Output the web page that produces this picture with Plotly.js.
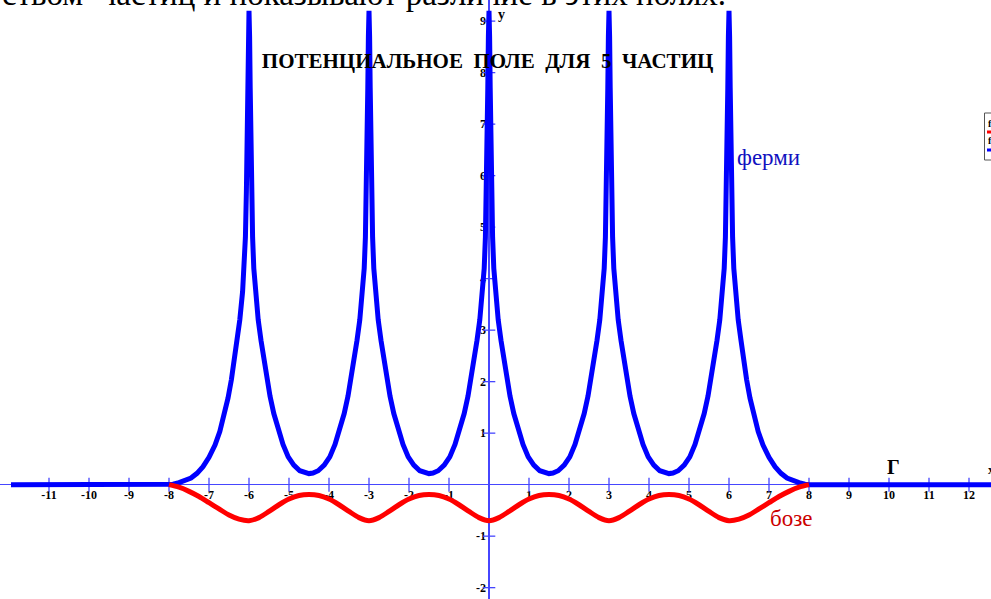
<!DOCTYPE html>
<html><head><meta charset="utf-8">
<script src="https://cdn.plot.ly/plotly-3.0.1.min.js"></script>
<style>html,body{margin:0;padding:0;background:#fff;overflow:hidden}#chart{width:991px;height:599px}</style>
</head><body><div id="chart"></div>
<script>
// Fermi curve (blue)
const fermiX = [-11.95,
 -8.0,-7.9,-7.75,-7.6,-7.45,-7.3,-7.15,-7.0,-6.85,-6.73,-6.62,-6.525,-6.44,-6.36,-6.3,-6.23,-6.16,-6.12,-6.09,-6.065,-6.045,-6.03,-6.015,-6.0,
 -5.985,-5.97,-5.955,-5.935,-5.91,-5.88,-5.84,-5.77,-5.7,-5.64,-5.56,-5.475,-5.38,-5.27,-5.15,-5.02,-4.88,-4.73,-4.6,-4.5,
 -4.4,-4.27,-4.12,-3.98,-3.85,-3.73,-3.62,-3.525,-3.44,-3.36,-3.3,-3.23,-3.16,-3.12,-3.09,-3.065,-3.045,-3.03,-3.015,-3.0,
 -2.985,-2.97,-2.955,-2.935,-2.91,-2.88,-2.84,-2.77,-2.7,-2.64,-2.56,-2.475,-2.38,-2.27,-2.15,-2.02,-1.88,-1.73,-1.6,-1.5,
 -1.4,-1.27,-1.12,-0.98,-0.85,-0.73,-0.62,-0.525,-0.44,-0.36,-0.3,-0.23,-0.16,-0.12,-0.09,-0.065,-0.045,-0.03,-0.015,0,
 0.015,0.03,0.045,0.065,0.09,0.12,0.16,0.23,0.3,0.36,0.44,0.525,0.62,0.73,0.85,0.98,1.12,1.27,1.4,1.5,
 1.6,1.73,1.88,2.02,2.15,2.27,2.38,2.475,2.56,2.64,2.7,2.77,2.84,2.88,2.91,2.935,2.955,2.97,2.985,3.0,
 3.015,3.03,3.045,3.065,3.09,3.12,3.16,3.23,3.3,3.36,3.44,3.525,3.62,3.73,3.85,3.98,4.12,4.27,4.4,4.5,
 4.6,4.73,4.88,5.02,5.15,5.27,5.38,5.475,5.56,5.64,5.7,5.77,5.84,5.88,5.91,5.935,5.955,5.97,5.985,6.0,
 6.015,6.03,6.045,6.065,6.09,6.12,6.16,6.23,6.3,6.36,6.44,6.525,6.62,6.73,6.85,7.0,7.15,7.3,7.45,7.6,7.75,7.9,8.0,
 12.6];
const fermiY = [0,
 0,0.01,0.04,0.08,0.13,0.22,0.35,0.53,0.77,1.03,1.34,1.68,2.04,2.45,2.8,3.2,3.75,4.2,4.8,5.7,6.8,7.7,8.7,9.2,
 8.7,7.7,6.8,5.7,4.8,4.2,3.75,3.2,2.8,2.48,2.08,1.72,1.38,1.06,0.78,0.54,0.38,0.27,0.225,0.215,
 0.225,0.27,0.38,0.54,0.78,1.06,1.38,1.72,2.08,2.48,2.8,3.2,3.75,4.2,4.8,5.7,6.8,7.7,8.7,9.2,
 8.7,7.7,6.8,5.7,4.8,4.2,3.75,3.2,2.8,2.48,2.08,1.72,1.38,1.06,0.78,0.54,0.38,0.27,0.225,0.215,
 0.225,0.27,0.38,0.54,0.78,1.06,1.38,1.72,2.08,2.48,2.8,3.2,3.75,4.2,4.8,5.7,6.8,7.7,8.7,9.2,
 8.7,7.7,6.8,5.7,4.8,4.2,3.75,3.2,2.8,2.48,2.08,1.72,1.38,1.06,0.78,0.54,0.38,0.27,0.225,0.215,
 0.225,0.27,0.38,0.54,0.78,1.06,1.38,1.72,2.08,2.48,2.8,3.2,3.75,4.2,4.8,5.7,6.8,7.7,8.7,9.2,
 8.7,7.7,6.8,5.7,4.8,4.2,3.75,3.2,2.8,2.48,2.08,1.72,1.38,1.06,0.78,0.54,0.38,0.27,0.225,0.215,
 0.225,0.27,0.38,0.54,0.78,1.06,1.38,1.72,2.08,2.48,2.8,3.2,3.75,4.2,4.8,5.7,6.8,7.7,8.7,9.2,
 8.7,7.7,6.8,5.7,4.8,4.2,3.75,3.2,2.8,2.45,2.04,1.68,1.34,1.03,0.77,0.53,0.35,0.22,0.13,0.08,0.04,0.01,0,
 0];

// Bose curve (red)
const boseX = [-8,-7.75,-7.5,-7.25,-7,-6.75,-6.5,-6.25,-6,-5.75,-5.5,-5.25,-5,-4.75,-4.5,-4.25,-4,-3.75,-3.5,-3.25,-3,
 -2.75,-2.5,-2.25,-2,-1.75,-1.5,-1.25,-1,-0.75,-0.5,-0.25,0,0.25,0.5,0.75,1,1.25,1.5,1.75,2,2.25,2.5,2.75,3,
 3.25,3.5,3.75,4,4.25,4.5,4.75,5,5.25,5.5,5.75,6,6.25,6.5,6.75,7,7.25,7.5,7.75,8];
const boseY = [0,-0.05,-0.13,-0.23,-0.35,-0.47,-0.59,-0.67,-0.70,
 -0.64,-0.52,-0.39,-0.28,-0.21,-0.19,
 -0.21,-0.28,-0.39,-0.52,-0.64,-0.70,
 -0.64,-0.52,-0.39,-0.28,-0.21,-0.19,
 -0.21,-0.28,-0.39,-0.52,-0.64,-0.70,
 -0.64,-0.52,-0.39,-0.28,-0.21,-0.19,
 -0.21,-0.28,-0.39,-0.52,-0.64,-0.70,
 -0.64,-0.52,-0.39,-0.28,-0.21,-0.19,
 -0.21,-0.28,-0.39,-0.52,-0.64,-0.70,
 -0.67,-0.59,-0.47,-0.35,-0.23,-0.13,-0.05,0];

const xTickVals = [-11,-10,-9,-8,-7,-6,-5,-4,-3,-2,-1,1,2,3,4,5,6,7,8,9,10,11,12];
const yTickVals = [-2,-1,1,2,3,4,5,6,7,8,9];
const legendNames = ['f', 'f'];
const legendColors = ['#ff0000', '#0000ff'];

const titleText = 'ПОТЕНЦИАЛЬНОЕ  ПОЛЕ  ДЛЯ  5  ЧАСТИЦ';
const pageText = 'ством  частиц и показывают различие в этих полях.';

const axisColor = '#4646ff';
const serif = 'Liberation Serif, Times New Roman, serif';
const W = 991, H = 599;
const px = v => v / W, py = v => 1 - v / H;

const traces = [
  {x: xTickVals, y: xTickVals.map(() => 0), mode: 'markers', showlegend: false, hoverinfo: 'skip',
   marker: {symbol: 'line-ns', size: 10, line: {width: 1.3, color: axisColor}}},
  {x: yTickVals.map(() => 0), y: yTickVals, mode: 'markers', showlegend: false, hoverinfo: 'skip',
   marker: {symbol: 'line-ew', size: 9, line: {width: 1.3, color: axisColor}}},
  {x: fermiX, y: fermiY, mode: 'lines', name: 'ферми', showlegend: false, line: {color: '#0000ff', width: 5}},
  {x: boseX, y: boseY, mode: 'lines', name: 'бозе', showlegend: false, line: {color: '#ff0000', width: 5, shape: 'spline', smoothing: 0.8}}
];

const tickFont = {family: serif, size: 12, color: '#000', weight: 'bold'};

// legend box (cut by the right edge, as in the reference)
const shapes = [
  {type: 'rect', xref: 'paper', yref: 'paper', x0: px(984.5), x1: px(1010), y0: py(160), y1: py(113),
   line: {color: '#555', width: 1}, fillcolor: '#fff', layer: 'above'}
];
legendColors.forEach((c, i) => shapes.push({type: 'line', xref: 'paper', yref: 'paper',
  x0: px(987), x1: px(1005), y0: py(132 + i * 18), y1: py(132 + i * 18), line: {color: c, width: 3}, layer: 'above'}));

const annotations = [
  {text: pageText, xref: 'paper', yref: 'paper', x: 0, xanchor: 'left', y: py(-6), yanchor: 'middle',
   showarrow: false, font: {family: serif, size: 33, color: '#000'}},
  {text: 'ферми', xref: 'x', yref: 'y', x: 6.15, y: 6.36, xanchor: 'left', yanchor: 'middle',
   showarrow: false, font: {family: serif, size: 23, color: '#1010c0'}},
  {text: 'бозе', xref: 'x', yref: 'y', x: 6.98, y: -0.65, xanchor: 'left', yanchor: 'middle',
   showarrow: false, font: {family: serif, size: 23, color: '#cc0000'}},
  {text: 'Г', xref: 'x', yref: 'y', x: 10.1, y: 0.34, xanchor: 'center', yanchor: 'middle',
   showarrow: false, font: {family: serif, size: 20, color: '#000', weight: 'bold'}},
  {text: 'y', xref: 'x', yref: 'y', x: 0.18, y: 9.12, xanchor: 'left', yanchor: 'middle',
   showarrow: false, font: {family: serif, size: 14, color: '#000', weight: 'bold'}},
  {text: 'x', xref: 'x', yref: 'y', x: 12.42, y: 0.28, xanchor: 'left', yanchor: 'middle',
   showarrow: false, font: {family: serif, size: 12, color: '#000', weight: 'bold'}}
];
legendNames.forEach((n, i) => annotations.push({text: n, xref: 'paper', yref: 'paper',
  x: px(986), xanchor: 'left', y: py(123 + i * 18), yanchor: 'middle', showarrow: false,
  font: {family: serif, size: 10, color: '#000', weight: 'bold'}}));

const layout = {
  width: W, height: H,
  margin: {l: 0, r: 0, t: 0, b: 0, pad: 0},
  paper_bgcolor: '#fff', plot_bgcolor: '#fff',
  showlegend: false,
  title: {text: titleText, font: {family: serif, size: 21, color: '#000', weight: 'bold'},
          x: 0.492, xanchor: 'center', xref: 'paper', y: 1 - 61/599, yanchor: 'middle', yref: 'container'},
  xaxis: {range: [-12.225, 12.55], domain: [0, 1], anchor: 'free', position: 2.22/11.63,
          showgrid: false, zeroline: true, zerolinecolor: axisColor, zerolinewidth: 1.5, showline: false,
          tickmode: 'array', tickvals: xTickVals, ticktext: xTickVals.map(String), ticks: '',
          tickfont: tickFont, layer: 'below traces', ticklabelstandoff: 1, automargin: false},
  yaxis: {range: [-2.22, 9.41], domain: [0, 1], anchor: 'free', position: 12.225/24.775, side: 'left',
          showgrid: false, zeroline: true, zerolinecolor: axisColor, zerolinewidth: 1.5, showline: false,
          tickmode: 'array', tickvals: yTickVals, ticktext: yTickVals.map(String), ticks: '',
          tickfont: tickFont, layer: 'below traces', ticklabelstandoff: 3, automargin: false},
  shapes: shapes,
  annotations: annotations
};

Plotly.newPlot('chart', traces, layout, {staticPlot: true, displayModeBar: false});
</script>
</body></html>
